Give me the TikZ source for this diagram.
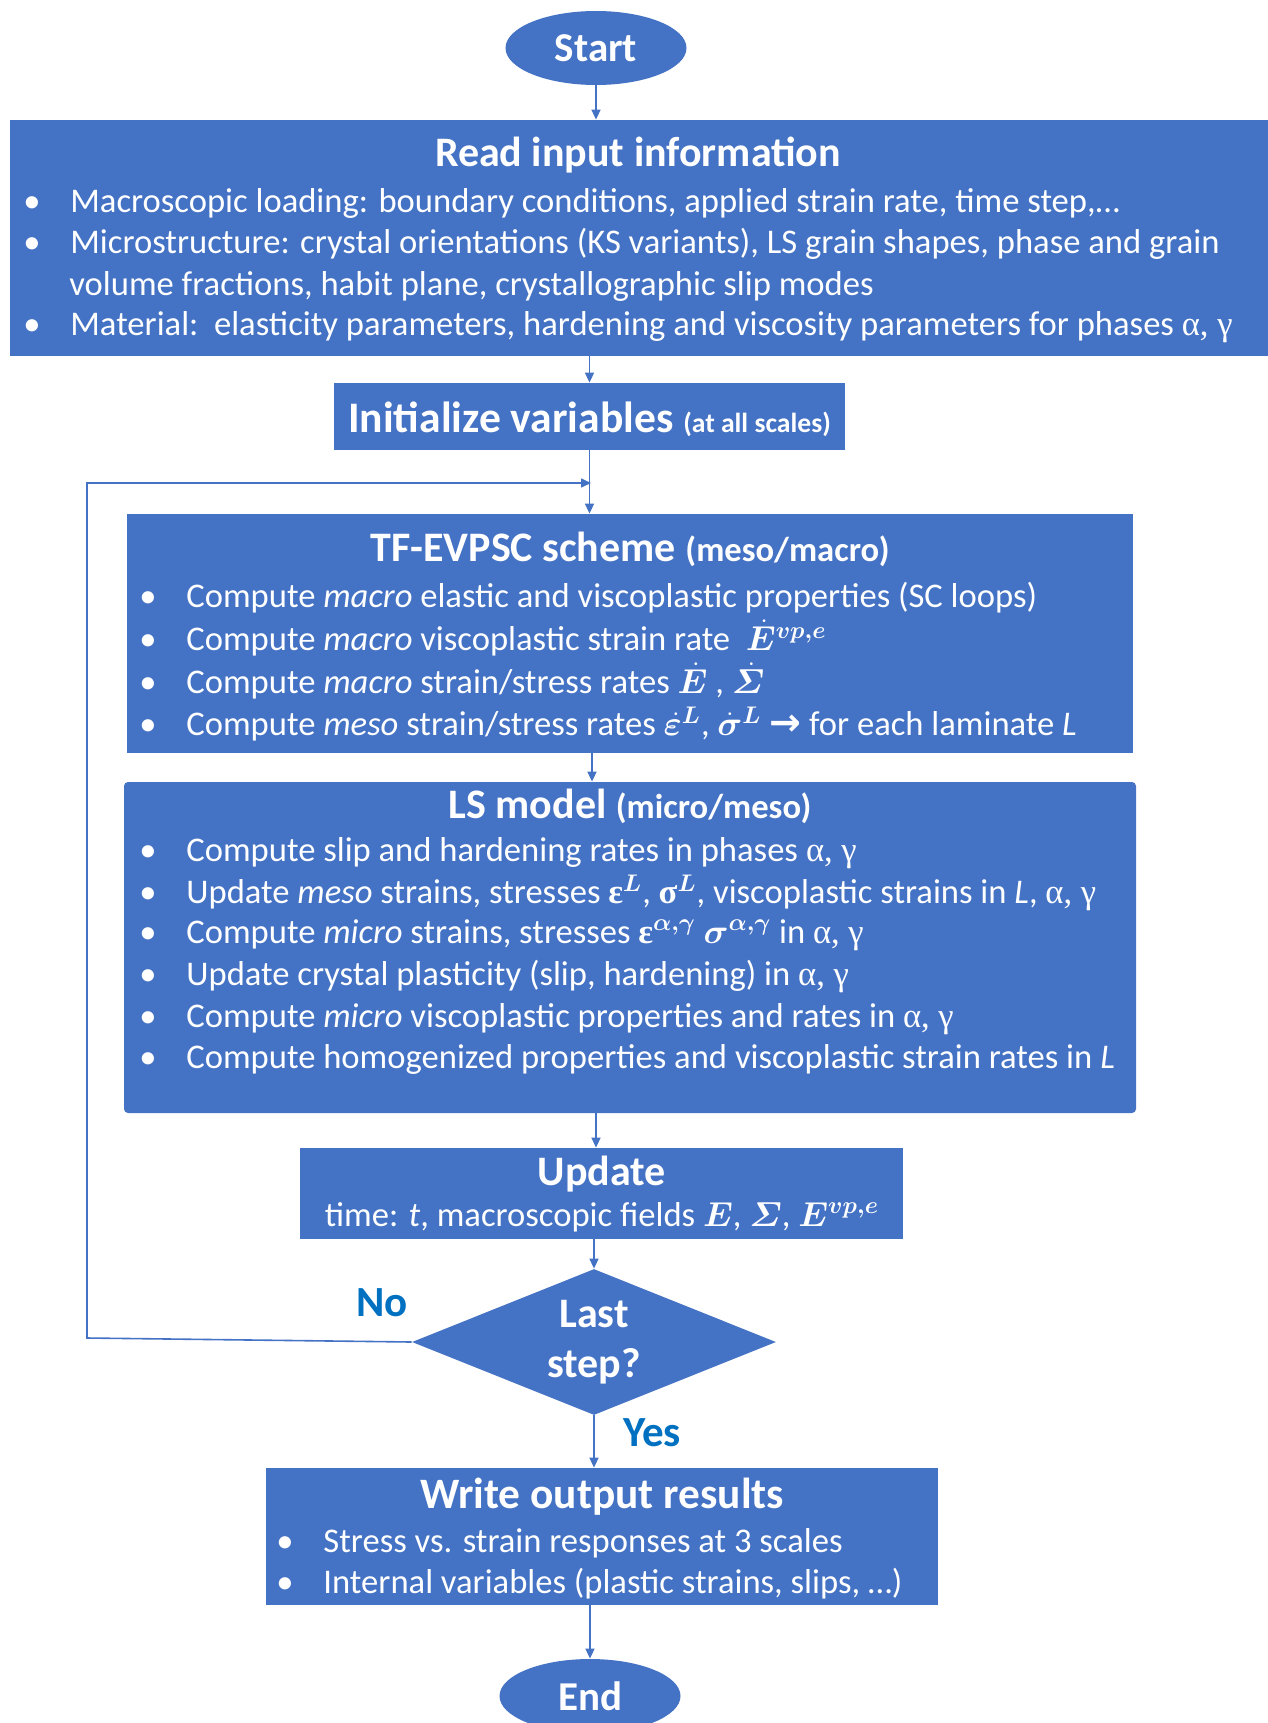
\documentclass[tikz,border=0pt]{standalone}
\usepackage{amsmath}
\usepackage{bm}
\usepackage{fontspec}
\setmainfont{Carlito}
\newfontfamily\grk{Liberation Serif}
\newfontfamily\sym{DejaVu Sans}
\usetikzlibrary{shapes.geometric,arrows.meta,positioning}
\definecolor{boxblue}{HTML}{4472C4}
\definecolor{labelblue}{HTML}{0070C0}
\newcommand{\bl}[1]{\makebox[20pt][l]{\hspace{-3.5pt}\textbullet}#1}
\newcommand{\ag}{{\grk α, γ}}
\newcommand{\bup}[1]{{\grk\bfseries #1}}

\begin{document}
\begin{tikzpicture}[x=0.5pt,y=-0.5pt,
    box/.style={fill=boxblue, draw=none, inner sep=0pt},
    term/.style={ellipse, fill=boxblue, inner sep=0pt, minimum width=90.5pt, minimum height=37pt,
        text=white, font=\bfseries\fontsize{20.5pt}{25pt}\selectfont},
    boxtitle/.style={text=white, inner sep=0pt, font=\bfseries\fontsize{21pt}{25pt}\selectfont},
    line/.style={text=white, inner sep=0pt, anchor=west, font=\fontsize{17.3pt}{21pt}\selectfont},
    yesno/.style={text=labelblue, inner sep=0pt, font=\bfseries\fontsize{21.5pt}{26pt}\selectfont},
    link/.style={draw=boxblue, line width=0.8pt, -{Triangle[length=5pt,width=4.5pt]}}]

    \useasboundingbox (0,0) rectangle (1268,1723);

    % Start / End
    \node[term] (start) at (596,48) {Start};
    \node[term] (end) at (590,1696) {End};

    % Read input information
    \node[box, minimum width=629pt, minimum height=118pt] (read) at (639,238) {};
    \node[boxtitle] (readtitle) at (638,155) {Read input information};
    \node[line] (read1) at (30,203) {\bl{Macroscopic loading: boundary conditions, applied strain rate, time step,\dots}};
    \node[line] (read2) at (30,244) {\bl{Microstructure: crystal orientations (KS variants), LS grain shapes, phase and grain}};
    \node[line] (read3) at (69,286) {volume fractions, habit plane, crystallographic slip modes};
    \node[line] (read4) at (30,327) {\bl{Material:\ \ elasticity parameters, hardening and viscosity parameters for phases \ag}};

    % Initialize
    \node[box, minimum width=255.5pt, minimum height=33.5pt] (init) at (589.5,416.5) {};
    \node[boxtitle] (inittitle) at (589.5,419) {\fontsize{21.8pt}{26pt}\selectfont Initialize variables {\fontsize{13.8pt}{16pt}\selectfont(at all scales)}};

    % TF-EVPSC scheme
    \node[box, minimum width=503pt, minimum height=119.5pt] (tf) at (630,633.5) {};
    \node[boxtitle] (tftitle) at (630,549) {TF-EVPSC scheme {\fontsize{17.3pt}{20pt}\selectfont(meso/macro)}};
    \node[line] (tf1) at (146,598) {\bl{Compute \textit{macro} elastic and viscoplastic properties (SC loops)}};
    \node[line] (tf2) at (146,638) {\bl{Compute \textit{macro} viscoplastic strain rate\ \ $\dot{\bm{E}}^{\bm{vp,e}}$}};
    \node[line] (tf3) at (146,681) {\bl{Compute \textit{macro} strain/stress rates $\dot{\bm{E}}$ , $\dot{\bm{\varSigma}}$}};
    \node[line] (tf4) at (146,724) {\bl{Compute \textit{meso} strain/stress rates $\dot{\bm{\varepsilon}}^{\bm{L}}$, $\dot{\bm{\sigma}}^{\bm{L}}$ {\sym\bfseries\fontsize{19pt}{21pt}\selectfont →} for each laminate \textit{L}}};

    % LS model
    \node[box, rounded corners=2pt, minimum width=506pt, minimum height=165.5pt] (ls) at (630,947.5) {};
    \node[boxtitle] (lstitle) at (630,806) {LS model {\fontsize{17.3pt}{20pt}\selectfont(micro/meso)}};
    \node[line] (ls1) at (146,853) {\bl{Compute slip and hardening rates in phases \ag}};
    \node[line] (ls2) at (146,893) {\bl{Update \textit{meso} strains, stresses \bup{ε}$^{\bm{L}}$, \bup{σ}$^{\bm{L}}$, viscoplastic strains in \textit{L}, \ag}};
    \node[line] (ls3) at (146,935) {\bl{Compute \textit{micro} strains, stresses \bup{ε}$^{\bm{\alpha,\gamma}}$ $\bm{\sigma}^{\bm{\alpha,\gamma}}$ in \ag}};
    \node[line] (ls4) at (146,977) {\bl{Update crystal plasticity (slip, hardening) in \ag}};
    \node[line] (ls5) at (146,1019) {\bl{Compute \textit{micro} viscoplastic properties and rates in \ag}};
    \node[line] (ls6) at (146,1059) {\bl{Compute homogenized properties and viscoplastic strain rates in \textit{L}}};

    % Update
    \node[box, minimum width=301.5pt, minimum height=45.5pt] (update) at (601.5,1193.5) {};
    \node[boxtitle] (updtitle) at (602,1174) {Update};
    \node[line, anchor=center] (upd1) at (602,1217) {time: \textit{t}, macroscopic fields $\bm{E}$, $\bm{\varSigma}$, $\bm{E}^{\bm{vp,e}}$};

    % Decision
    \node[diamond, fill=boxblue, inner sep=0pt, minimum width=182pt, minimum height=73pt] (last) at (594,1342) {};
    \node[boxtitle, align=center] (lasttxt) at (594,1342) {Last\\step?};
    \node[yesno] (nolbl) at (382,1303) {No};
    \node[yesno] (yeslbl) at (652,1433) {Yes};

    % Write output results
    \node[box, minimum width=336pt, minimum height=68.5pt] (write) at (602,1536.5) {};
    \node[boxtitle] (writetitle) at (602,1497) {\fontsize{21.7pt}{26pt}\selectfont Write output results};
    \node[line] (write1) at (283,1543) {\bl{Stress vs. strain responses at 3 scales}};
    \node[line] (write2) at (283,1584) {\bl{Internal variables (plastic strains, slips, \dots)}};

    % Connectors
    \coordinate (trunk) at (592,0);
    \coordinate (join) at (591,483);
    \coordinate (loopbot) at (87,1338);
    \coordinate (looptop) at (87,483);
    \draw[link] (start) -- (start |- read.north);
    \draw[link] (read.south -| init.north) -- (init.north);
    \draw[link] (init.south) -- (init.south |- tf.north);
    \draw[link] (tf.south -| trunk) -- (ls.north -| trunk);
    \draw[link] (ls.south -| start) -- (update.north -| start);
    \draw[link] (update.south -| last.north) -- (last.north);
    \draw[link] (last.south) -- (write.north -| last.south);
    \draw[link] (write.south -| end.north) -- (end.north);
    \draw[link] (last.west) -- (loopbot) -- (looptop) -- (join);

\end{tikzpicture}
\end{document}
